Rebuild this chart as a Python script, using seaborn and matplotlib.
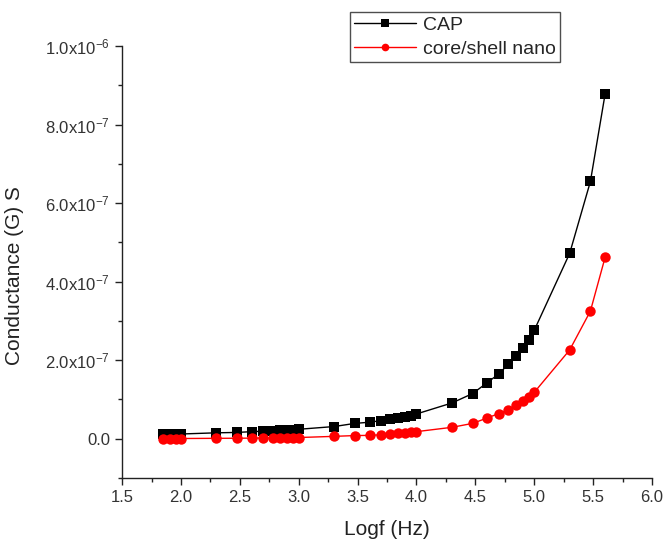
import numpy as np
import pandas as pd
import matplotlib
matplotlib.use("Agg")
import matplotlib.pyplot as plt
import seaborn as sns
from matplotlib.ticker import MultipleLocator, FixedLocator, FixedFormatter

# log10 of the measurement frequency (Hz)
logf = [1.845, 1.903, 1.954, 2.0,
        2.301, 2.477, 2.602, 2.699, 2.778, 2.845, 2.903, 2.954, 3.0,
        3.301, 3.477, 3.602, 3.699, 3.778, 3.845, 3.903, 3.954, 4.0,
        4.301, 4.477, 4.602, 4.699, 4.778, 4.845, 4.903, 4.954, 5.0,
        5.301, 5.477, 5.602]

# conductance (S)
cap = [1.2e-8, 1.2e-8, 1.2e-8, 1.2e-8,
       1.5e-8, 1.6e-8, 1.8e-8, 1.9e-8, 2.0e-8, 2.1e-8, 2.2e-8, 2.3e-8, 2.4e-8,
       3.1e-8, 3.9e-8, 4.2e-8, 4.6e-8, 4.9e-8, 5.2e-8, 5.5e-8, 5.9e-8, 6.3e-8,
       9.1e-8, 1.15e-7, 1.43e-7, 1.65e-7, 1.89e-7, 2.1e-7, 2.32e-7, 2.52e-7, 2.76e-7,
       4.72e-7, 6.55e-7, 8.78e-7]

core_shell = [0.5e-9, 0.5e-9, 0.5e-9, 0.5e-9,
              1.0e-9, 1.2e-9, 1.5e-9, 1.8e-9, 2.0e-9, 2.3e-9, 2.6e-9, 2.8e-9, 3.0e-9,
              6.0e-9, 8.0e-9, 8.5e-9, 1.0e-8, 1.2e-8, 1.4e-8, 1.5e-8, 1.6e-8, 1.8e-8,
              2.9e-8, 3.9e-8, 5.3e-8, 6.4e-8, 7.3e-8, 8.6e-8, 9.6e-8, 1.07e-7, 1.18e-7,
              2.26e-7, 3.25e-7, 4.62e-7]

series_names = ["CAP", "core/shell nano"]

ytick_values = [0.0, 2.0e-7, 4.0e-7, 6.0e-7, 8.0e-7, 1.0e-6]
ytick_labels = ["0.0", "2.0x10$^{-7}$", "4.0x10$^{-7}$", "6.0x10$^{-7}$",
                "8.0x10$^{-7}$", "1.0x10$^{-6}$"]
xtick_values = [1.5, 2.0, 2.5, 3.0, 3.5, 4.0, 4.5, 5.0, 5.5, 6.0]

sns.set_style("ticks")
plt.rcParams["font.family"] = ["Liberation Sans", "DejaVu Sans"]
plt.rcParams["mathtext.fontset"] = "custom"
plt.rcParams["mathtext.rm"] = "Liberation Sans"
plt.rcParams["mathtext.it"] = "Liberation Sans:italic"
plt.rcParams["mathtext.bf"] = "Liberation Sans:bold"

df = pd.DataFrame({
    "logf": logf * 2,
    "G": cap + core_shell,
    "sample": [series_names[0]] * len(cap) + [series_names[1]] * len(core_shell),
})

fig = plt.figure(figsize=(6.67, 5.39), dpi=100)
ax = fig.add_axes([0.183, 0.1132, 0.7945, 0.8015])

sns.lineplot(data=df[df["sample"] == series_names[0]], x="logf", y="G",
             color="black", marker="s", markersize=6.5, markeredgewidth=0,
             linewidth=1.0, label=series_names[0], ax=ax, legend=False)
sns.lineplot(data=df[df["sample"] == series_names[1]], x="logf", y="G",
             color="#ff0000", marker="o", markersize=7.5, markeredgewidth=0,
             linewidth=1.0, label=series_names[1], ax=ax, legend=False)

ax.set_xlim(1.5, 6.0)
ax.set_ylim(-1.0e-7, 1.0e-6)
ax.xaxis.set_major_locator(FixedLocator(xtick_values))
ax.xaxis.set_minor_locator(MultipleLocator(0.25))
ax.yaxis.set_major_locator(FixedLocator(ytick_values))
ax.yaxis.set_major_formatter(FixedFormatter(ytick_labels))
ax.yaxis.set_minor_locator(MultipleLocator(1.0e-7))
ax.set_xticklabels([f"{v:.1f}" for v in xtick_values])

for side in ("top", "right"):
    ax.spines[side].set_visible(False)
for side in ("left", "bottom"):
    ax.spines[side].set_linewidth(1.0)
    ax.spines[side].set_color("#222222")

ax.tick_params(axis="both", which="major", direction="out", length=5, width=1.0,
               labelsize=12, colors="#222222", labelcolor="#333333")
ax.tick_params(axis="both", which="minor", direction="out", length=3, width=1.0,
               colors="#222222")

ax.set_xlabel("Logf (Hz)", fontsize=15, color="#222222", labelpad=11)
ax.set_ylabel("Conductance (G) S", fontsize=15, color="#222222")
ax.yaxis.set_label_coords(-0.185, 0.468)

leg = ax.legend(loc="upper left", bbox_to_anchor=(350 / 667, 1 - 12 / 539),
                bbox_transform=fig.transFigure, frameon=True, fancybox=False,
                fontsize=14, handlelength=3.2, handletextpad=0.35,
                borderpad=0.2, labelspacing=0.35, borderaxespad=0)
leg.get_frame().set_edgecolor("#222222")
leg.get_frame().set_linewidth(1.0)
for h in leg.legend_handles:
    h.set_markersize(5.5)

fig.savefig("out.png", dpi=100)
